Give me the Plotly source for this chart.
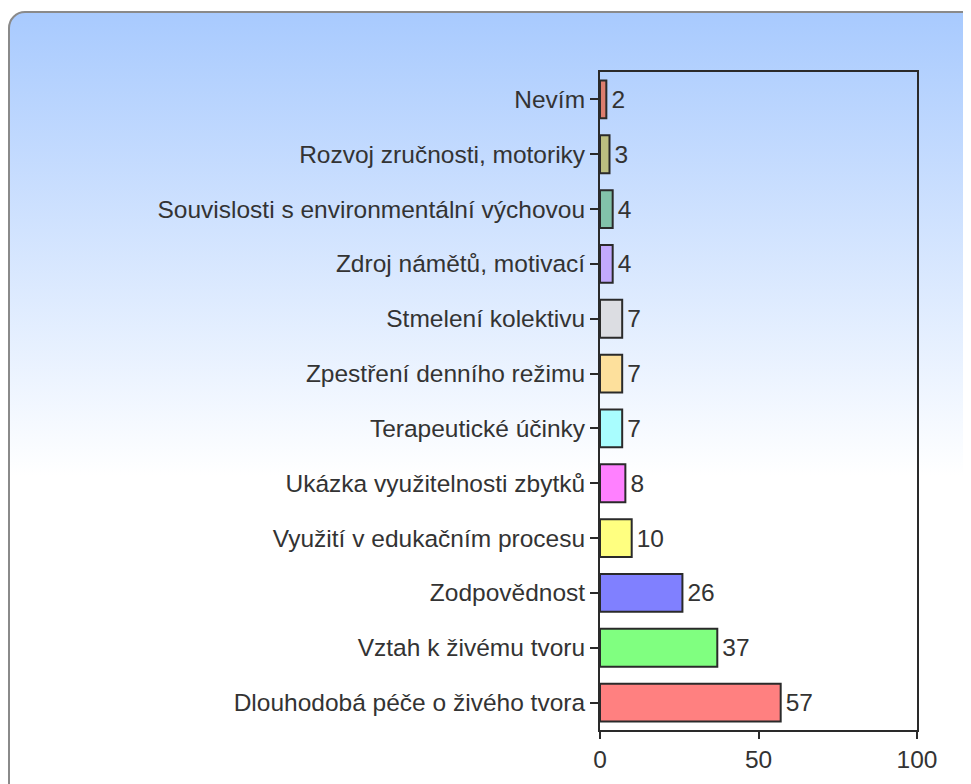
import plotly.graph_objects as go
import urllib.parse

# categories top -> bottom
categories = [
    "Nevím",
    "Rozvoj zručnosti, motoriky",
    "Souvislosti s environmentální výchovou",
    "Zdroj námětů, motivací",
    "Stmelení kolektivu",
    "Zpestření denního režimu",
    "Terapeutické účinky",
    "Ukázka využitelnosti zbytků",
    "Využití v edukačním procesu",
    "Zodpovědnost",
    "Vztah k živému tvoru",
    "Dlouhodobá péče o živého tvora",
]
values = [2, 3, 4, 4, 7, 7, 7, 8, 10, 26, 37, 57]
bar_colors = [
    "#dc7d6e", "#bcbf80", "#82c2aa", "#c2a9fd", "#dcdde2", "#fde09c",
    "#a9fdfe", "#ff80ff", "#ffff80", "#8080ff", "#80ff80", "#ff8080",
]
x_ticks = [0, 50, 100]

FONT = "Liberation Sans, Arial, sans-serif"
FSIZE = 24.5

# the page body adds 8px, so the figure itself starts 8px up/left
L, R, T, B = 592, 62, 64, 62
W, H = 971, 784
pw, ph = W - L - R, H - T - B

# rounded panel with a blue -> white vertical gradient (svg background)
panel_svg = (
    "<svg xmlns='http://www.w3.org/2000/svg' width='971' height='784'>"
    "<defs><linearGradient id='g' x1='0' y1='0' x2='0' y2='1'>"
    "<stop offset='0' stop-color='#a8cafe'/>"
    "<stop offset='0.58' stop-color='#ffffff'/>"
    "<stop offset='1' stop-color='#ffffff'/>"
    "</linearGradient></defs>"
    "<rect x='1' y='4' width='1000' height='800' rx='16' ry='16' "
    "fill='url(#g)' stroke='#8a8a8a' stroke-width='2'/>"
    "</svg>"
)
panel_src = "data:image/svg+xml;charset=utf-8," + urllib.parse.quote(panel_svg)

fig = go.Figure()
fig.add_trace(go.Bar(
    x=values,
    y=categories,
    orientation="h",
    marker=dict(color=bar_colors, line=dict(color="#2a2a2a", width=2)),
    width=0.69,
    texttemplate="\u200a%{x}",
    textposition="outside",
    cliponaxis=False,
    textfont=dict(family=FONT, size=FSIZE, color="#333333"),
    hoverinfo="x+y",
))

fig.update_layout(
    width=W,
    height=H,
    margin=dict(l=L, r=R, t=T, b=B),
    paper_bgcolor="white",
    plot_bgcolor="rgba(0,0,0,0)",
    showlegend=False,
    font=dict(family=FONT, size=FSIZE, color="#333333"),
    images=[dict(
        source=panel_src, xref="paper", yref="paper",
        x=-L / pw, y=1 + T / ph, sizex=W / pw, sizey=H / ph,
        xanchor="left", yanchor="top", sizing="stretch", layer="below",
    )],
)
fig.update_xaxes(
    range=[0, 100],
    tickvals=x_ticks,
    ticks="outside", ticklen=7, tickwidth=2, tickcolor="#2a2a2a",
    showline=True, linecolor="#2a2a2a", linewidth=2, mirror=True,
    showgrid=False, zeroline=False,
    tickfont=dict(size=FSIZE, color="#333333"),
)
fig.update_yaxes(
    autorange="reversed",
    ticks="outside", ticklen=8, tickwidth=2, tickcolor="#2a2a2a",
    showline=True, linecolor="#2a2a2a", linewidth=2, mirror=True,
    showgrid=False, zeroline=False,
    ticklabelstandoff=0,
    tickfont=dict(size=FSIZE, color="#333333"),
)

fig.write_html("out.html")
